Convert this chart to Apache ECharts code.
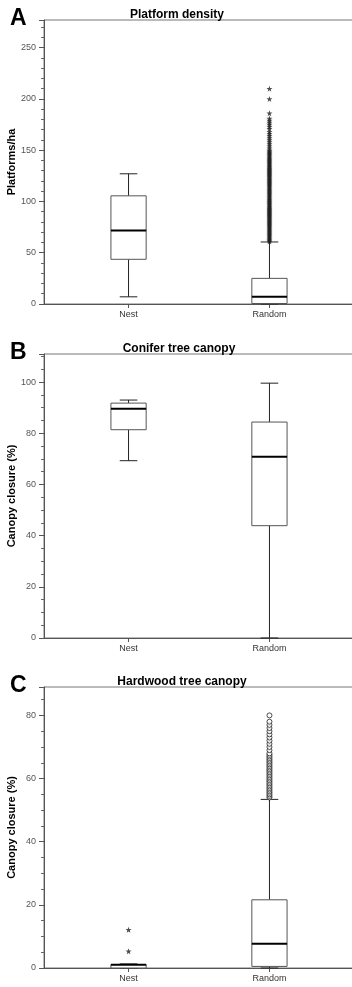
<!DOCTYPE html>
<html>
<head>
<meta charset="utf-8">
<script src="https://cdn.jsdelivr.net/npm/echarts@6/dist/echarts.min.js"></script>
<style>
    html, body { margin: 0; padding: 0; background: #fff; }
    #main { width: 352px; height: 987px; }
</style>
</head>
<body>
<div id="main"></div>
<script type="text/javascript">
    // categories
    var groups = ['Nest', 'Random'];
    var groupPos = [1, 2];

    // box values: [min, Q1, median, Q3, max]
    var densityNest = [7, 43.6, 71.6, 105.5, 127];
    var densityRandom = [0, 0.5, 7, 25, 60.5];
    var densityRandomOutliers = [61, 62, 63, 64, 65, 66, 67, 68, 69, 70, 71, 72, 73, 74, 75, 76, 77, 78, 79, 80,
        81, 82, 83, 84, 85, 86, 87, 88, 89, 90, 91, 92, 93, 94, 95, 96, 97, 98, 99, 100,
        101, 102, 103, 104, 105, 106, 107, 108, 109, 110, 111, 112, 113, 114, 115, 116, 117, 118, 119, 120,
        121, 122, 123, 124, 125, 126, 127, 128, 129, 130, 131, 132, 133, 134, 135, 136, 137, 138, 139, 140,
        141, 142, 143, 144, 145, 146, 147, 148, 149, 150, 152, 154, 156, 158, 160, 162, 164, 166, 168, 171,
        173, 175, 177, 179, 181, 186, 200, 210];

    var coniferNest = [69.3, 81.4, 89.6, 91.8, 93];
    var coniferRandom = [0, 43.9, 70.8, 84.4, 99.6];

    var hardwoodNest = [0, 0, 1.0, 1.1, 1.3];
    var hardwoodRandom = [0, 0.5, 7.7, 21.6, 53.4];
    var hardwoodNestOutliers = [5.3, 12.1];
    var hardwoodRandomOutliers = [54, 54.5, 55, 55.5, 56, 56.5, 57, 57.5, 58, 58.5, 59, 59.5, 60, 60.5, 61, 61.5,
        62, 62.5, 63, 63.5, 64, 64.5, 65, 65.5, 66, 66.5, 67, 67.5, 68, 69, 70, 71, 72, 73, 74, 75, 76, 77, 78, 80];

    // y axis: [max, interval, minor splits]
    var densityTicks = [277, 50, 5];
    var coniferTicks = [111, 20, 4];
    var hardwoodTicks = [89, 20, 4];

    var panels = [
        { letter: 'A', title: 'Platform density', titleX: 172, yName: 'Platforms/ha', top: 20, height: 284, ticks: densityTicks,
          boxes: [densityNest, densityRandom], outliers: [[], densityRandomOutliers], marks: ['star', 'star'] },
        { letter: 'B', title: 'Conifer tree canopy', titleX: 174, yName: 'Canopy closure (%)', top: 354, height: 284, ticks: coniferTicks,
          boxes: [coniferNest, coniferRandom], outliers: [[], []], marks: ['star', 'star'] },
        { letter: 'C', title: 'Hardwood tree canopy', titleX: 177, yName: 'Canopy closure (%)', top: 687, height: 281, ticks: hardwoodTicks,
          boxes: [hardwoodNest, hardwoodRandom], outliers: [hardwoodNestOutliers, hardwoodRandomOutliers], marks: ['star', 'circle'] }
    ];

    var starPath = 'path://M5 0 L6.18 3.38 L9.76 3.45 L6.9 5.62 L7.94 9.05 L5 7 L2.06 9.05 L3.1 5.62 L0.24 3.45 L3.82 3.38 Z';
    var font = 'Liberation Sans, Arial, sans-serif';

    function renderBox(params, api) {
        var x = api.value(0);
        var lo = api.coord([x, api.value(1)]);
        var q1 = api.coord([x, api.value(2)]);
        var med = api.coord([x, api.value(3)]);
        var q3 = api.coord([x, api.value(4)]);
        var hi = api.coord([x, api.value(5)]);
        var half = api.size([0.25, 0])[0] / 2;
        var cap = half / 2;
        var whisker = { stroke: '#222', lineWidth: 1 };
        return {
            type: 'group',
            children: [
                { type: 'line', shape: { x1: hi[0], y1: hi[1], x2: q3[0], y2: q3[1] }, style: whisker },
                { type: 'line', shape: { x1: lo[0], y1: lo[1], x2: q1[0], y2: q1[1] }, style: whisker },
                { type: 'line', shape: { x1: hi[0] - cap, y1: hi[1], x2: hi[0] + cap, y2: hi[1] }, style: whisker },
                { type: 'line', shape: { x1: lo[0] - cap, y1: lo[1], x2: lo[0] + cap, y2: lo[1] }, style: whisker },
                { type: 'rect', shape: { x: q3[0] - half, y: q3[1], width: half * 2, height: q1[1] - q3[1] },
                  style: { fill: '#fff', stroke: '#555', lineWidth: 1 } },
                { type: 'line', shape: { x1: med[0] - half, y1: med[1], x2: med[0] + half, y2: med[1] },
                  style: { stroke: '#000', lineWidth: 2 } }
            ]
        };
    }

    var option = { animation: false, backgroundColor: '#fff', title: [], grid: [], xAxis: [], yAxis: [], series: [] };

    panels.forEach(function (p, i) {
        option.title.push({
            text: p.letter, left: 5, top: p.top - 18,
            textStyle: { fontFamily: font, fontSize: 23, fontWeight: 'bold', color: '#000' }
        });
        option.title.push({
            text: p.title, left: p.titleX, textAlign: 'center', top: p.top - 16,
            textStyle: { fontFamily: font, fontSize: 12, fontWeight: 'bold', color: '#000' }
        });
        option.grid.push({
            left: 44, right: -2, top: p.top, height: p.height, outerBoundsMode: 'none',
            show: true, borderColor: '#777', borderWidth: 1
        });
        option.xAxis.push({
            gridIndex: i, type: 'value', min: 0.4, max: 2.6,
            splitLine: { show: false },
            axisLine: { lineStyle: { color: '#555' } },
            axisTick: { customValues: groupPos, length: 4, lineStyle: { color: '#555' } },
            axisLabel: {
                customValues: groupPos, margin: 6, color: '#333', fontFamily: font, fontSize: 9,
                formatter: function (v) { return groups[Math.round(v) - 1]; }
            }
        });
        option.yAxis.push({
            gridIndex: i, type: 'value', min: 0, max: p.ticks[0], interval: p.ticks[1],
            name: p.yName, nameLocation: 'middle', nameGap: 27, nameMoveOverlap: false,
            nameTextStyle: { fontFamily: font, fontSize: 11, fontWeight: 'bold', color: '#000' },
            splitLine: { show: false },
            axisLine: { show: true, lineStyle: { color: '#555' } },
            axisTick: { show: true, length: 5, lineStyle: { color: '#555' } },
            minorTick: { show: true, splitNumber: p.ticks[2], length: 3, lineStyle: { color: '#666' } },
            axisLabel: { margin: 8, color: '#555', fontFamily: font, fontSize: 9, showMaxLabel: false }
        });
        option.series.push({
            type: 'custom', xAxisIndex: i, yAxisIndex: i,
            renderItem: renderBox,
            encode: { x: 0, y: [1, 2, 3, 4, 5] },
            data: p.boxes.map(function (b, k) { return [groupPos[k]].concat(b); })
        });
        p.outliers.forEach(function (list, k) {
            if (!list.length) return;
            var isStar = p.marks[k] === 'star';
            option.series.push({
                type: 'scatter', xAxisIndex: i, yAxisIndex: i, z: 3,
                symbol: isStar ? starPath : 'circle',
                symbolSize: isStar ? 6 : 5,
                itemStyle: isStar ? { color: '#222' } : { color: '#fff', borderColor: '#222', borderWidth: 1 },
                data: list.map(function (v) { return [groupPos[k], v]; })
            });
        });
    });

    var chart = echarts.init(document.getElementById('main'), null, { renderer: 'canvas' });
    chart.setOption(option);
</script>
</body>
</html>
